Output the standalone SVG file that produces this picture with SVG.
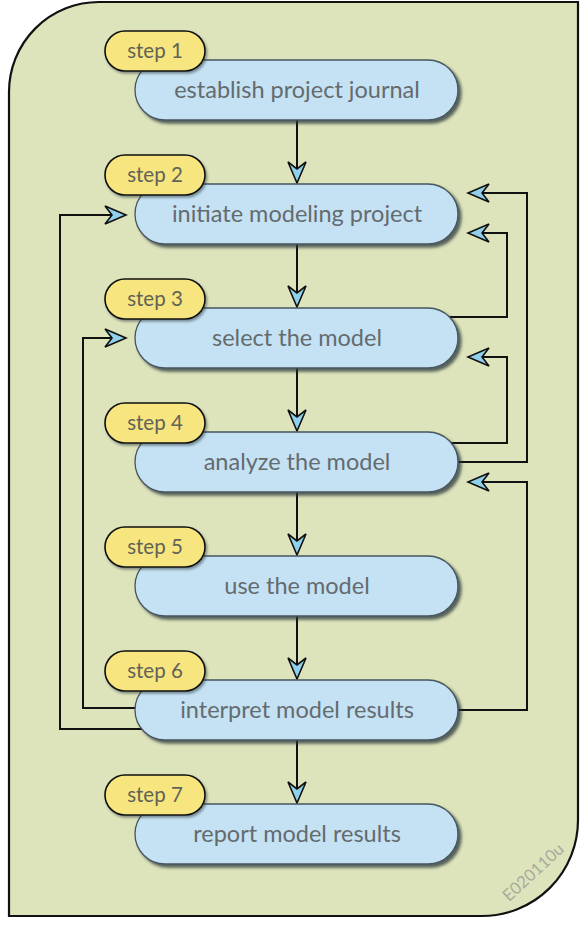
<svg xmlns="http://www.w3.org/2000/svg" width="587" height="939" viewBox="0 0 587 939">
<style>
.step{fill:#f7e57f;stroke:#111;stroke-width:1.6}
.task{fill:#c4e2f3;stroke:#46545f;stroke-width:1.3}
.stxt{font-family:Lato,"Open Sans",sans-serif;font-size:20.5px;fill:#626357;text-anchor:middle}
.ttxt{font-family:Lato,"Open Sans",sans-serif;font-size:23.5px;fill:#646b6f;text-anchor:middle}
.conn{fill:none;stroke:#111;stroke-width:2;marker-end:url(#arr)}
</style>
<defs>
<filter id="sh" x="-10%" y="-20%" width="125%" height="150%">
<feDropShadow dx="3" dy="3" stdDeviation="1.6" flood-color="#27343a" flood-opacity="0.75"/>
</filter>
<filter id="sh2" x="-10%" y="-20%" width="125%" height="150%">
<feDropShadow dx="1.5" dy="2" stdDeviation="1" flood-color="#27343a" flood-opacity="0.5"/>
</filter>
<marker id="arr" markerUnits="userSpaceOnUse" viewBox="-23 -11 25 22" refX="0" refY="0" markerWidth="25" markerHeight="22" orient="auto">
<path d="M0,0 L-21,-9 L-14,0 L-21,9 Z" fill="#8fd0ea" stroke="#111" stroke-width="1.6" stroke-linejoin="miter"/>
</marker>
</defs>
<path id="panel" d="M9,916 V92 A90,90 0 0 1 99,2 H578 V820 A96,96 0 0 1 482,916 Z" fill="#dde3ba" stroke="#111" stroke-width="2.2"/>
<text x="533" y="872" transform="rotate(-42.6 533 872)" font-family="Lato,'Open Sans',sans-serif" font-size="16.5" fill="#a7ac9c" text-anchor="middle" dominant-baseline="central">E020110u</text>
<g id="connectors">
<path class="conn" d="M297,120 V183"/>
<path class="conn" d="M297,244 V307"/>
<path class="conn" d="M297,368 V431"/>
<path class="conn" d="M297,492 V555"/>
<path class="conn" d="M297,616 V679"/>
<path class="conn" d="M297,740 V803"/>
<path class="conn" d="M440,462 H527 V193 H468"/>
<path class="conn" d="M440,317 H507 V233 H468"/>
<path class="conn" d="M440,443 H507 V357 H468"/>
<path class="conn" d="M440,710 H527 V482 H468"/>
<path class="conn" d="M150,729 H60 V215 H126"/>
<path class="conn" d="M150,708 H83 V338 H126"/>
</g>
<g id="node1">
<rect class="task" x="135" y="60" width="323" height="60" rx="30" filter="url(#sh)"/>
<text class="ttxt" x="297" y="98">establish project journal</text>
<rect class="step" x="105" y="31" width="100" height="40" rx="20" filter="url(#sh2)"/>
<text class="stxt" x="155" y="58">step 1</text>
</g>
<g id="node2">
<rect class="task" x="135" y="184" width="323" height="60" rx="30" filter="url(#sh)"/>
<text class="ttxt" x="297" y="222">initiate modeling project</text>
<rect class="step" x="105" y="155" width="100" height="40" rx="20" filter="url(#sh2)"/>
<text class="stxt" x="155" y="182">step 2</text>
</g>
<g id="node3">
<rect class="task" x="135" y="308" width="323" height="60" rx="30" filter="url(#sh)"/>
<text class="ttxt" x="297" y="346">select the model</text>
<rect class="step" x="105" y="279" width="100" height="40" rx="20" filter="url(#sh2)"/>
<text class="stxt" x="155" y="306">step 3</text>
</g>
<g id="node4">
<rect class="task" x="135" y="432" width="323" height="60" rx="30" filter="url(#sh)"/>
<text class="ttxt" x="297" y="470">analyze the model</text>
<rect class="step" x="105" y="403" width="100" height="40" rx="20" filter="url(#sh2)"/>
<text class="stxt" x="155" y="430">step 4</text>
</g>
<g id="node5">
<rect class="task" x="135" y="556" width="323" height="60" rx="30" filter="url(#sh)"/>
<text class="ttxt" x="297" y="594">use the model</text>
<rect class="step" x="105" y="527" width="100" height="40" rx="20" filter="url(#sh2)"/>
<text class="stxt" x="155" y="554">step 5</text>
</g>
<g id="node6">
<rect class="task" x="135" y="680" width="323" height="60" rx="30" filter="url(#sh)"/>
<text class="ttxt" x="297" y="718">interpret model results</text>
<rect class="step" x="105" y="651" width="100" height="40" rx="20" filter="url(#sh2)"/>
<text class="stxt" x="155" y="678">step 6</text>
</g>
<g id="node7">
<rect class="task" x="135" y="804" width="323" height="60" rx="30" filter="url(#sh)"/>
<text class="ttxt" x="297" y="842">report model results</text>
<rect class="step" x="105" y="775" width="100" height="40" rx="20" filter="url(#sh2)"/>
<text class="stxt" x="155" y="802">step 7</text>
</g>
</svg>
